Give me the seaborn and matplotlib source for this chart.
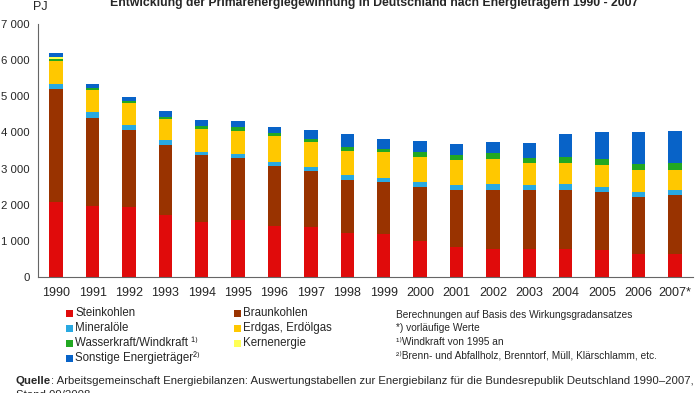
import matplotlib
matplotlib.use("Agg")
import matplotlib.pyplot as plt
import seaborn as sns
import numpy as np
import pandas as pd
from matplotlib.patches import Rectangle

years = ["1990", "1991", "1992", "1993", "1994", "1995", "1996", "1997", "1998",
         "1999", "2000", "2001", "2002", "2003", "2004", "2005", "2006", "2007*"]
steinkohlen = [2080, 1970, 1945, 1725, 1535, 1580, 1405, 1380, 1225,
               1200, 995, 830, 785, 765, 785, 740, 630, 650]
braunkohlen = [3125, 2440, 2130, 1920, 1830, 1700, 1665, 1555, 1450,
               1430, 1505, 1580, 1635, 1635, 1635, 1600, 1570, 1615]
mineraloele = [146, 165, 137, 137, 100, 110, 118, 110, 135,
               120, 137, 137, 165, 145, 150, 155, 155, 137]
erdgas = [622, 590, 611, 600, 640, 660, 705, 685, 665,
          710, 685, 685, 670, 610, 575, 605, 595, 550]
wasserkraft = [46, 70, 55, 55, 65, 90, 90, 75, 110,
               80, 130, 130, 165, 140, 175, 155, 190, 210]
kernenergie = [63, 0, 0, 0, 0, 0, 0, 0, 0,
               0, 0, 0, 0, 0, 0, 0, 0, 0]
sonstige = [108, 110, 109, 155, 185, 165, 165, 275, 365,
            285, 320, 330, 320, 410, 640, 750, 885, 890]

series = [
    ("Steinkohlen", steinkohlen, "#e00b0b"),
    ("Braunkohlen", braunkohlen, "#993300"),
    ("Mineralöle", mineraloele, "#29a9e1"),
    ("Erdgas, Erdölgas", erdgas, "#ffc800"),
    ("Wasserkraft/Windkraft", wasserkraft, "#22a822"),
    ("Kernenergie", kernenergie, "#ffff55"),
    ("Sonstige Energieträger", sonstige, "#0863c8"),
]

sns.set_style("white")
plt.rcParams["font.family"] = ["Liberation Sans", "DejaVu Sans"]

W, H = 700, 393
fig = plt.figure(figsize=(7.0, 3.93), dpi=100)
ax = fig.add_axes([38 / W, 1 - 277 / H, (693 - 38) / W, (277 - 24) / H])

bottom = np.zeros(len(years))
for name, vals, col in series:
    df = pd.DataFrame({"Jahr": years, "PJ": vals})
    sns.barplot(data=df, x="Jahr", y="PJ", color=col, bottom=bottom.copy(),
                width=0.37, ax=ax, saturation=1, linewidth=0, errorbar=None)
    bottom += np.array(vals)

ax.set_xlim(-0.5, 17.5)
ax.set_ylim(0, 7000)
ax.set_yticks(range(0, 7001, 1000))
ax.set_yticklabels([f"{v:,}".replace(",", " ") for v in range(0, 7001, 1000)], fontsize=8.2)
ax.set_xticks(range(len(years)))
ax.set_xticklabels(years, fontsize=9)
ax.set_xticks(np.arange(-0.5, 17.6, 1), minor=True)
ax.tick_params(axis="x", which="major", length=0, pad=7)
ax.tick_params(axis="x", which="minor", length=4, color="#666666", width=0.8, direction="out")
ax.tick_params(axis="y", which="major", length=4, color="#666666", width=0.8, direction="out", pad=2)
ax.set_xlabel("")
ax.set_ylabel("")
for s in ["top", "right"]:
    ax.spines[s].set_visible(False)
for s in ["left", "bottom"]:
    ax.spines[s].set_color("#666666")
    ax.spines[s].set_linewidth(0.8)

fig.text(374 / W, 1 - 3 / H,
         "Entwicklung der Primärenergiegewinnung in Deutschland nach Energieträgern 1990 - 2007",
         ha="center", va="center", fontsize=8.8, fontweight="bold")
fig.text(33 / W, 1 - 7 / H, "PJ", ha="left", va="center", fontsize=9)

# Legend (manual)
colors = dict((n, c) for n, _, c in series)
legend_items = [
    (66, 313, "Steinkohlen", "Steinkohlen"),
    (66, 328, "Mineralöle", "Mineralöle"),
    (66, 343, "Wasserkraft/Windkraft", "Wasserkraft/Windkraft ¹⁾"),
    (66, 358, "Sonstige Energieträger", "Sonstige Energieträger²⁾"),
    (234, 313, "Braunkohlen", "Braunkohlen"),
    (234, 328, "Erdgas, Erdölgas", "Erdgas, Erdölgas"),
    (234, 343, "Kernenergie", "Kernenergie"),
]
for x, y, key, lab in legend_items:
    fig.patches.append(Rectangle((x / W, 1 - (y + 3.5) / H), 7 / W, 7 / H,
                                 facecolor=colors[key], edgecolor="none",
                                 transform=fig.transFigure, figure=fig))
    fig.text((x + 9) / W, 1 - y / H, lab, ha="left", va="center", fontsize=8.3)

notes = [
    (315, "Berechnungen auf Basis des Wirkungsgradansatzes"),
    (328, "*) vorläufige Werte"),
    (342, "¹⁾Windkraft von 1995 an"),
    (356, "²⁾Brenn- und Abfallholz, Brenntorf, Müll, Klärschlamm, etc."),
]
for y, t in notes:
    fig.text(396 / W, 1 - y / H, t, ha="left", va="center", fontsize=7.3)

q = fig.text(16 / W, 1 - 381 / H, "Quelle", ha="left", va="center", fontsize=8.2, fontweight="bold")
fig.canvas.draw()
bb = q.get_window_extent().transformed(fig.transFigure.inverted())
fig.text(bb.x1, 1 - 381 / H,
         ": Arbeitsgemeinschaft Energiebilanzen: Auswertungstabellen zur Energiebilanz für die Bundesrepublik Deutschland 1990–2007,",
         ha="left", va="center", fontsize=8.2)
fig.text(16 / W, 1 - 395 / H, "Stand 09/2008", ha="left", va="center", fontsize=8.2)

fig.savefig("out.png", dpi=100)
